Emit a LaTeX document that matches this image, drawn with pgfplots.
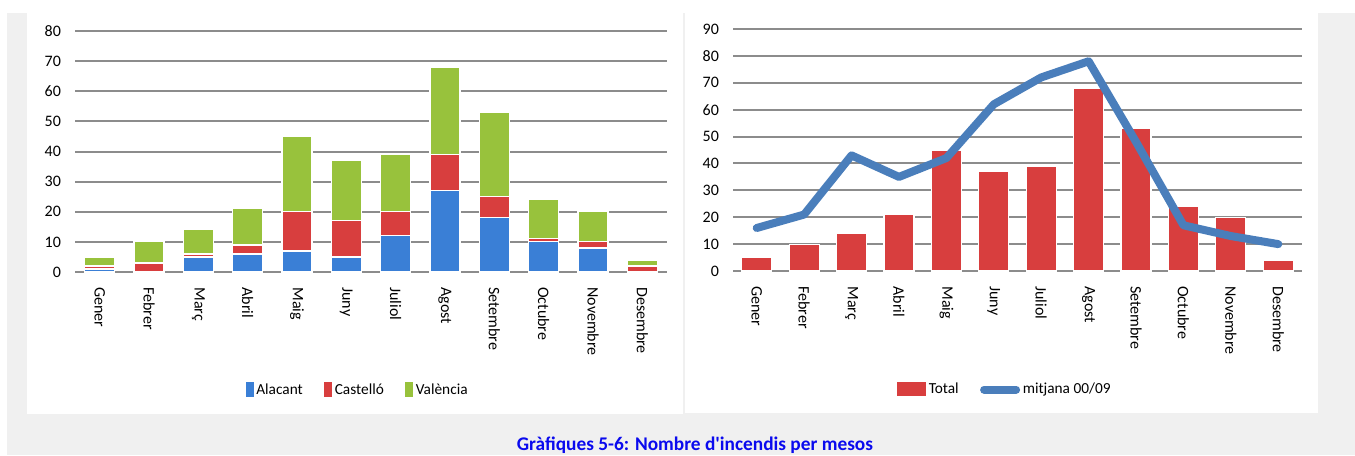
\documentclass[border=0pt]{standalone}
\usepackage{pgfplots}
\pgfplotsset{compat=1.18}
\usepackage{pgfplotstable}
\usepackage{fontspec}
\setmainfont{Carlito}
\definecolor{bggrey}{HTML}{F0F0F0}
\definecolor{gridgrey}{HTML}{8C8C8C}
\definecolor{barblue}{HTML}{3A7FD6}
\definecolor{barred}{HTML}{D83E3E}
\definecolor{bargreen}{HTML}{98C23C}
\definecolor{lineblue}{HTML}{4A7EBB}
\definecolor{capblue}{HTML}{0A0AEE}

\pgfplotstableread{
m ala cas val total mitj
0 1 1 3 5 16
1 0 3 7 10 21
2 5 1 8 14 43
3 6 3 12 21 35
4 7 13 25 45 42
5 5 12 20 37 62
6 12 8 19 39 72
7 27 12 29 68 78
8 18 7 28 53 48
9 10 1 13 24 17
10 8 2 10 20 13
11 0 2 2 4 10
}\datatable

\pgfplotsset{
  monthaxis/.style={
    scale only axis,
    anchor=south west,
    xmin=-0.5, xmax=11.5,
    xtick={0,...,11},
    xticklabels={Gener,Febrer,Març,Abril,Maig,Juny,Juliol,Agost,Setembre,Octubre,Novembre,Desembre},
    xticklabel style={rotate=-90, anchor=west, font=\fontsize{12}{14}\selectfont, xshift=8pt},
    yticklabel style={font=\fontsize{12}{14}\selectfont, xshift=-7pt},
    /pgf/number format/assume math mode=true,
    axis line style={draw=none},
    major tick length=0pt,
    ymajorgrids,
    grid style={line width=1.5pt, gridgrey},
    legend style={draw=none, fill=none, font=\fontsize{11.5}{13}\selectfont, legend columns=-1,
      /tikz/every even column/.append style={column sep=14pt}},
  },
  flatbar/.style={fill=#1, draw=white, line width=0.9pt},
  narrowlegend/.style={legend image code/.code={\fill[##1,draw=none] (0pt,-5pt) rectangle (6pt,6pt);}},
  widelegend/.style={legend image code/.code={\fill[##1,draw=none] (0pt,-5pt) rectangle (22pt,6pt);}},
  linelegend/.style={legend image code/.code={\draw[##1] (2pt,0pt) -- (26pt,0pt);}},
}

\begin{document}
\begin{tikzpicture}
\useasboundingbox (0,0) rectangle (1016.25pt,-341.25pt);
\clip (0,0) rectangle (1016.25pt,-341.25pt);
\begin{scope}[x=0.75pt,y=-0.75pt]
\fill[white] (0,0) rectangle (1355,455);
\fill[bggrey] (7,13) rectangle (1355,455);
\fill[white] (27,13) rectangle (683,414);
\fill[white] (685,13) rectangle (1318,413);
\node[font=\bfseries\fontsize{14.5}{16}\selectfont, text=capblue, anchor=base] at (695,450) {Gràfiques 5-6: Nombre d\textquotesingle incendis per mesos};
\end{scope}

% Left chart
\begin{axis}[monthaxis,
  at={(56.25pt,-204pt)},
  width=444pt, height=180.75pt,
  ymin=0, ymax=80, ytick={0,10,...,80},
  ybar stacked, bar width=22.5pt,
  legend style={at={(0.478,-0.49)}, anchor=center},
]
\addplot[flatbar=barblue, narrowlegend] table[x=m,y=ala] {\datatable};
\addplot[flatbar=barred, narrowlegend] table[x=m,y=cas] {\datatable};
\addplot[flatbar=bargreen, narrowlegend] table[x=m,y=val] {\datatable};
\legend{Alacant,Castelló,València}
\end{axis}

% Right chart
\begin{axis}[monthaxis,
  at={(549.75pt,-203.25pt)},
  width=426.75pt, height=181.5pt,
  ymin=0, ymax=90, ytick={0,10,...,90},
  legend style={at={(0.478,-0.49)}, anchor=center},
]
\addplot[ybar, bar width=22.5pt, flatbar=barred, widelegend] table[x=m,y=total] {\datatable};
\addplot[sharp plot, no markers, lineblue, line width=6pt, line join=round, line cap=round, linelegend] table[x=m,y=mitj] {\datatable};
\legend{Total,mitjana 00/09}
\end{axis}
\end{tikzpicture}
\end{document}
